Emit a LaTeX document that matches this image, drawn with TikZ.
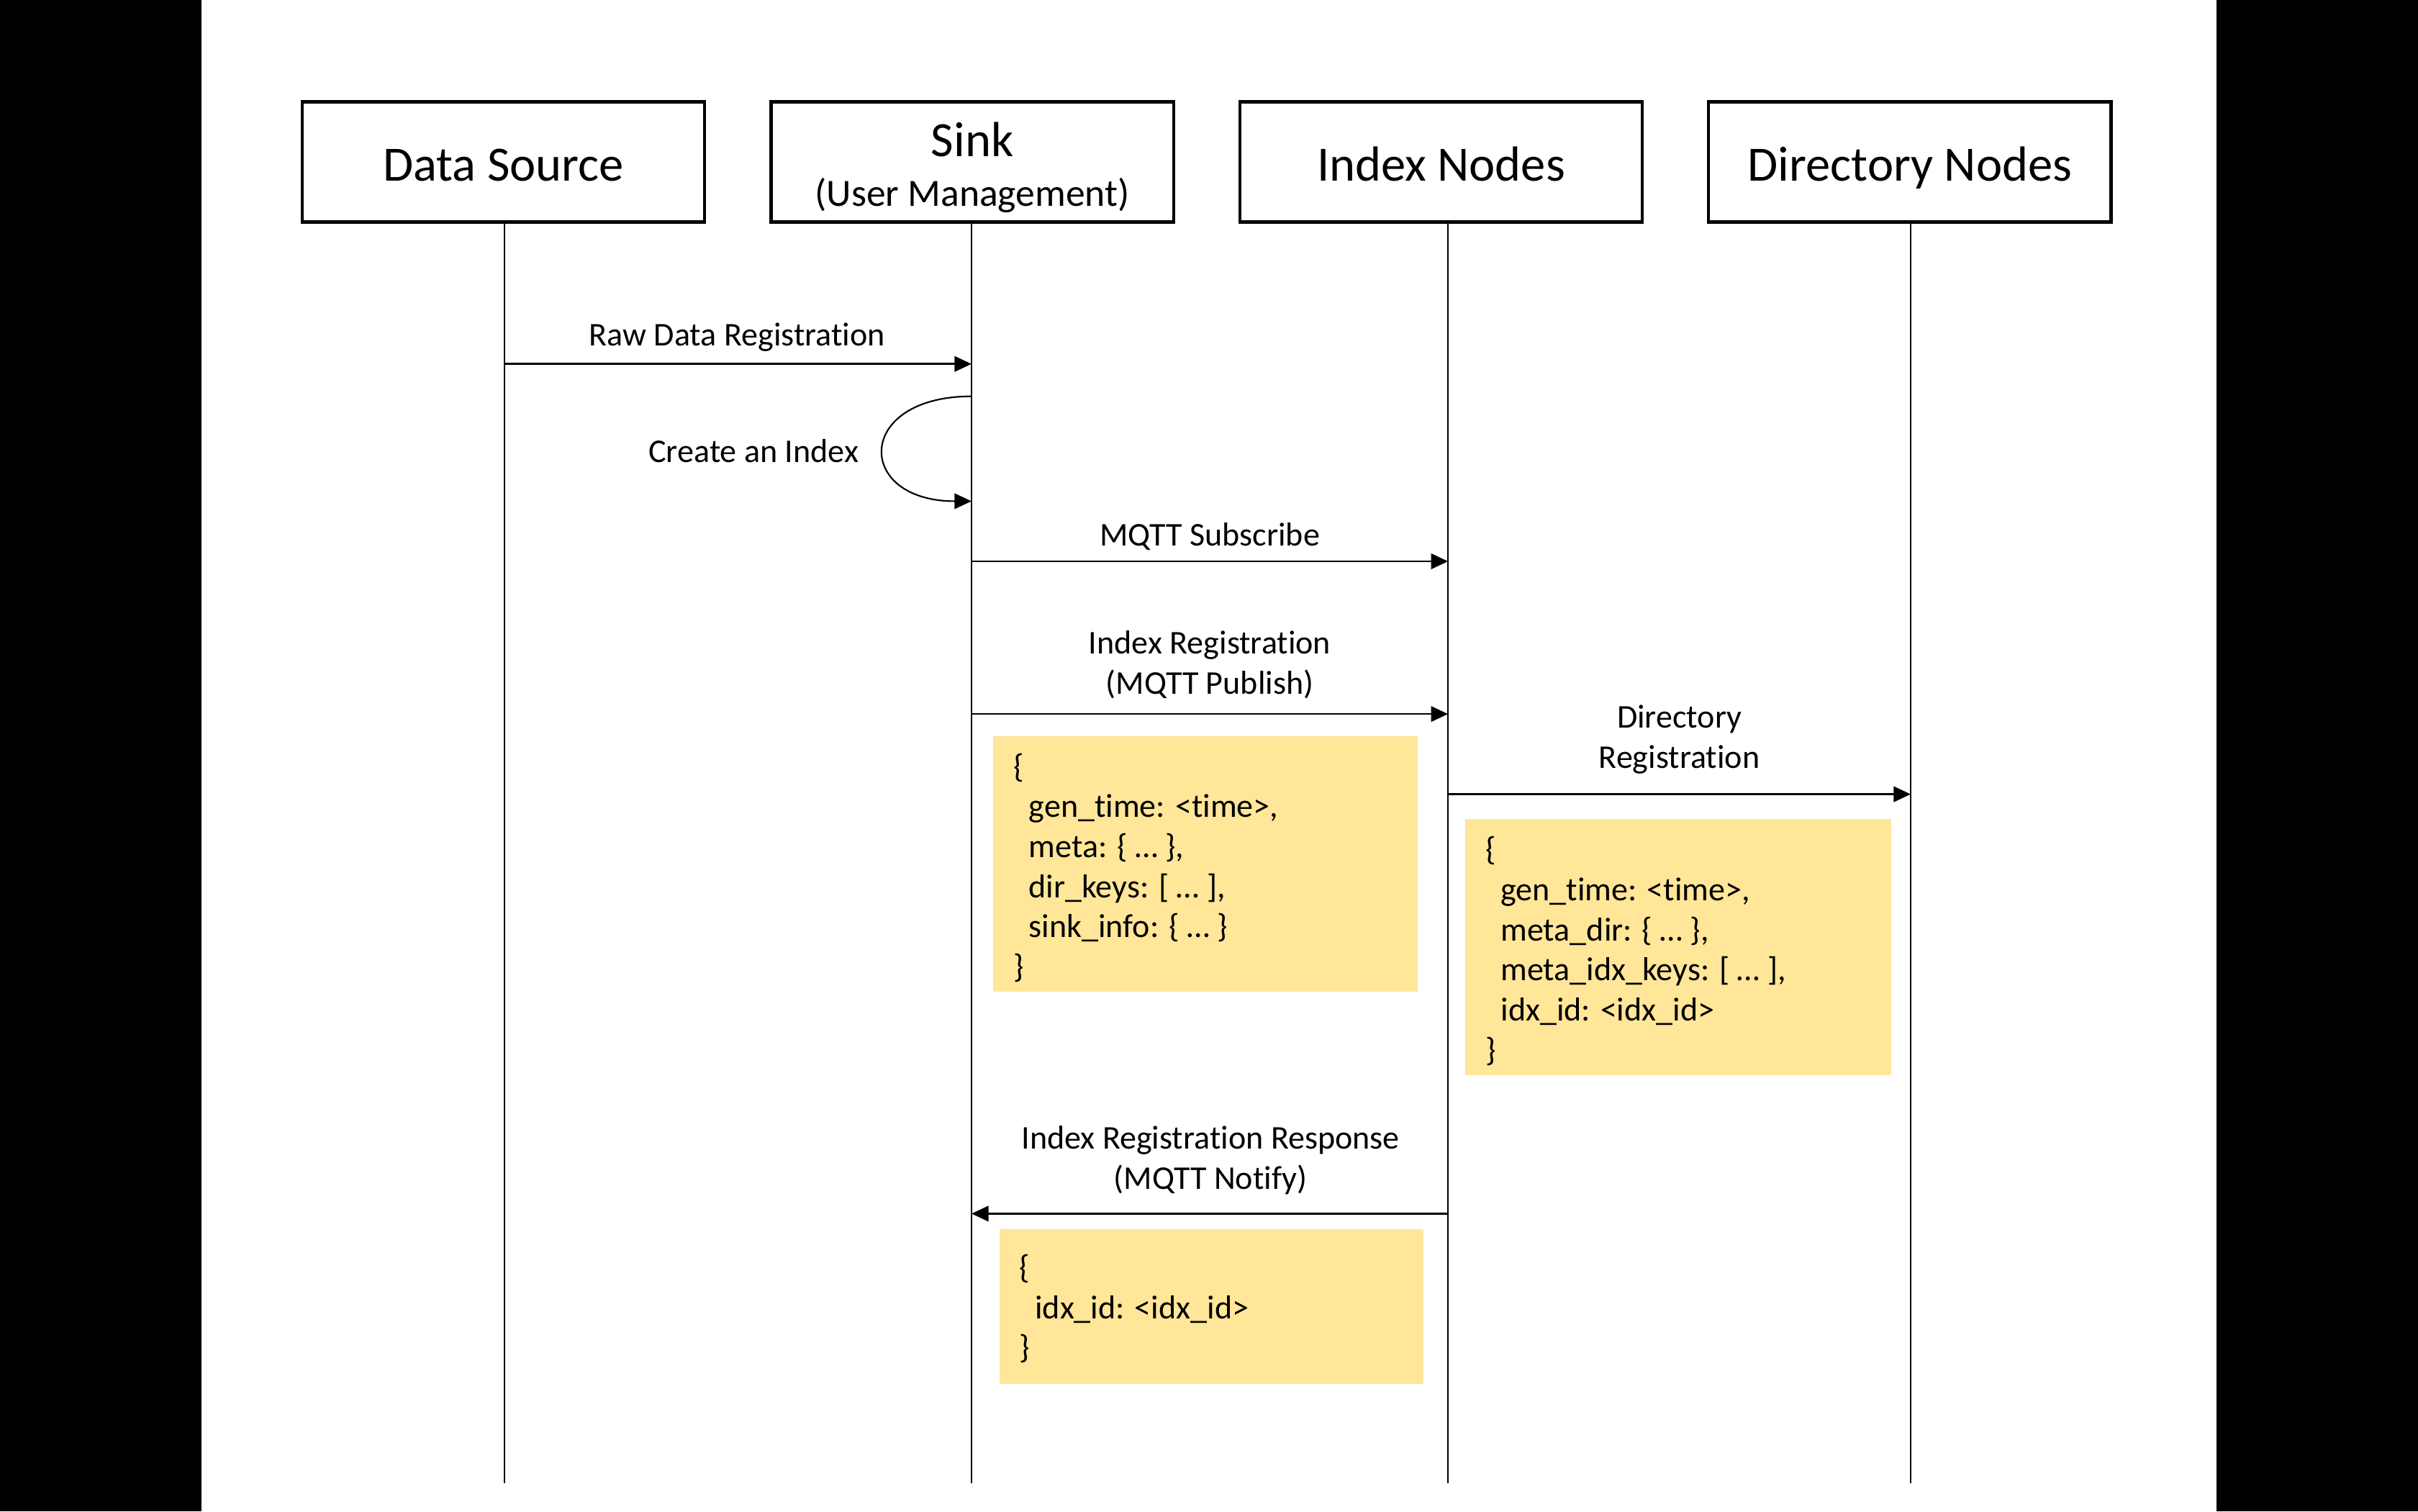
\documentclass[tikz,border=0pt]{standalone}
\usepackage{fontspec}
\setmainfont{Carlito}[Ligatures=NoCommon]
\usetikzlibrary{arrows.meta}
\definecolor{notecol}{HTML}{FFE699}
\begin{document}
\begin{tikzpicture}[x=1pt,y=-1pt,
  actor/.style={draw, line width=2pt, minimum width=261pt, minimum height=78pt, inner sep=0pt},
  big/.style={font=\fontsize{32}{38}\selectfont, inner sep=0pt, anchor=base},
  sub/.style={font=\fontsize{25}{30}\selectfont, inner sep=0pt, anchor=base},
  life/.style={line width=1pt},
  msg/.style={line width=1.2pt, -{Triangle[length=11pt,width=10pt]}},
  lbl/.style={font=\fontsize{21.5}{26}\selectfont, text height=18pt, text depth=2pt, inner sep=0pt},
  code/.style={lbl, anchor=west},
  notebox/.style={fill=notecol, inner sep=0pt, anchor=north west}
]
\useasboundingbox (0,0) rectangle (1568,980);
\fill[white] (0,0) rectangle (1568,980);
\fill[black] (0,0) rectangle (130.5,980);
\fill[black] (1437.5,0) rectangle (1568,980);

% actors
\node[actor] (ds) at (326.5,105) {};
\node[big] (dsT) at (326.5,117.5) {Data Source};
\node[actor] (sink) at (630.5,105) {};
\node[big] (sinkT) at (630.5,101.5) {Sink};
\node[sub] (sinkS) at (630.5,133.5) {(User Management)};
\node[actor] (ix) at (934.5,105) {};
\node[big] (ixT) at (934.5,117.5) {Index Nodes};
\node[actor] (dir) at (1238.5,105) {};
\node[big] (dirT) at (1238.5,117.5) {Directory Nodes};

% lifelines
\coordinate (dsEnd) at (327,962);
\coordinate (sinkEnd) at (630,962);
\coordinate (ixEnd) at (939,962);
\coordinate (dirEnd) at (1239,962);
\draw[life] (ds.south -| dsEnd) -- (dsEnd);
\draw[life] (sink.south -| sinkEnd) -- (sinkEnd);
\draw[life] (ix.south -| ixEnd) -- (ixEnd);
\draw[life] (dir.south -| dirEnd) -- (dirEnd);

% Raw Data Registration
\coordinate (m1a) at (327,236);
\coordinate (m1b) at (630,236);
\draw[msg] (m1a) -- (m1b);
\node[lbl] (m1l) at (478,216) {Raw Data Registration};

% Create an Index (self loop)
\coordinate (s1a) at (630,257);
\coordinate (s1b) at (630,325);
\draw[line width=1pt, -{Triangle[length=11pt,width=10pt]}] (s1a) .. controls (554,257) and (554,325) .. (s1b);
\node[lbl, anchor=east] (s1l) at (557,292) {Create an Index};

% MQTT Subscribe
\coordinate (m2a) at (630,364);
\coordinate (m2b) at (939,364);
\draw[msg] (m2a) -- (m2b);
\node[lbl] (m2l) at (784.5,346) {MQTT Subscribe};

% Index Registration
\coordinate (m3a) at (630,463);
\coordinate (m3b) at (939,463);
\draw[msg] (m3a) -- (m3b);
\node[lbl] (m3l1) at (784.5,416) {Index Registration};
\node[lbl] (m3l2) at (784.5,442) {(MQTT Publish)};

% note 1
\node[notebox, minimum width=275pt, minimum height=166pt] (n1) at (644,477) {};
\node[code] (n1a) at (657,496) {\{};
\node[code] (n1b) at (667,522) {gen\_time: <time>,};
\node[code] (n1c) at (667,548) {meta: \{ … \},};
\node[code] (n1d) at (667,574) {dir\_keys: [ … ],};
\node[code] (n1e) at (667,600) {sink\_info: \{ … \}};
\node[code] (n1f) at (657,626) {\}};

% Directory Registration
\coordinate (m4a) at (939,515);
\coordinate (m4b) at (1239,515);
\draw[msg] (m4a) -- (m4b);
\node[lbl] (m4l1) at (1089,464) {Directory};
\node[lbl] (m4l2) at (1089,490) {Registration};

% note 2
\node[notebox, minimum width=276pt, minimum height=166pt] (n2) at (950,531) {};
\node[code] (n2a) at (963,550) {\{};
\node[code] (n2b) at (973,576) {gen\_time: <time>,};
\node[code] (n2c) at (973,602) {meta\_dir: \{ … \},};
\node[code] (n2d) at (973,628) {meta\_idx\_keys: [ … ],};
\node[code] (n2e) at (973,654) {idx\_id: <idx\_id>};
\node[code] (n2f) at (963,680) {\}};

% Index Registration Response
\coordinate (m5a) at (939,787);
\coordinate (m5b) at (630,787);
\draw[msg] (m5a) -- (m5b);
\node[lbl] (m5l1) at (785,737) {Index Registration Response};
\node[lbl] (m5l2) at (785,763) {(MQTT Notify)};

% note 3
\node[notebox, minimum width=275pt, minimum height=100pt] (n3) at (648,797) {};
\node[code] (n3a) at (661,821) {\{};
\node[code] (n3b) at (671,847) {idx\_id: <idx\_id>};
\node[code] (n3c) at (661,873) {\}};
\end{tikzpicture}
\end{document}
